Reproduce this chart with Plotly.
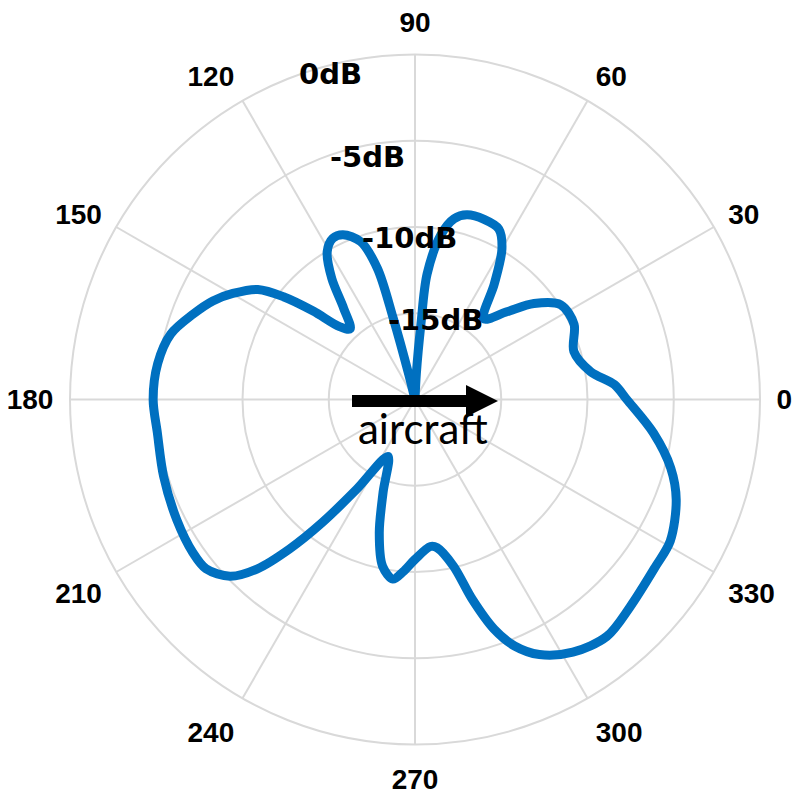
import plotly.graph_objects as go

# ---------------- data ----------------
theta_deg = [0, 4.3, 9, 16.8, 25.3, 33, 38.9, 43.7, 49.6, 55.5, 60, 63.8, 69, 74.3,
             77.8, 81, 84.5, 85.5, 87, 90, 100, 104, 105, 106, 109, 113.6, 117,
             120.7, 124.5, 128, 132.5, 136, 139, 142, 145, 149.8, 154, 159, 165,
             172, 180, 187.3, 197, 206.8, 214.6, 219, 223.7, 227, 230, 233, 237,
             244.6, 251, 255, 259, 263, 266, 270, 276, 278.5, 283, 286, 289, 292,
             296, 302, 309, 316, 325, 331, 339, 345, 352, 360]
gain_db = [-7.72, -8.41, -9.69, -10.38, -9.80, -9.92, -11.14, -12.64, -13.86, -11.89,
           -9.92, -8.99, -8.82, -8.88, -9.28, -10.32, -12.70, -15.6, -18.5, -20.0,
           -20.0, -18.5, -15.1, -12.1, -10.32, -9.57, -9.51, -10.03, -11.48, -13.28,
           -14.44, -13.92, -12.18, -10.32, -8.88, -7.78, -6.96, -6.21, -5.34, -4.94,
           -4.82, -4.94, -4.76, -4.53, -4.36, -4.41, -5.17, -6.56, -8.70, -11.08,
           -13.80, -16.35, -14.32, -12.00, -10.15, -9.51, -9.98, -10.73, -11.43,
           -11.31, -10.09, -7.95, -5.92, -4.59, -3.55, -2.73, -2.33, -2.68, -3.02,
           -3.08, -3.78, -4.65, -6.04, -7.72]

angle_ticks = [0, 30, 60, 90, 120, 150, 180, 210, 240, 270, 300, 330]
angle_labels = ["0", "30", "60", "90", "120", "150", "180", "210", "240", "270", "300", "330"]
db_ticks = [-15, -10, -5, 0]
db_labels = ["-15dB", "-10dB", "-5dB", "0dB"]
aircraft_label = "aircraft"

# ---------------- layout helpers ----------------
# the page body has an 8px margin; the figure is sized so it fills the rest of the window
SCREEN_W, SCREEN_H = 804, 794
OFF = 8
W, H = SCREEN_W - OFF, SCREEN_H - OFF


def px(x):
    """screen pixel x -> paper fraction"""
    return (x - OFF) / W


def py(y):
    """screen pixel y -> paper fraction"""
    return 1 - (y - OFF) / H


GRID = "#d9d9d9"
LINE_BLUE = "#0070C0"

fig = go.Figure()
fig.add_trace(go.Scatterpolar(
    r=gain_db, theta=theta_deg, mode="lines",
    line=dict(color=LINE_BLUE, width=9, shape="spline", smoothing=0.9),
    hoverinfo="skip", showlegend=False,
))

# label positions (screen pixels) for the radial dB labels
db_label_pos = {"0dB": (330.5, 74), "-5dB": (367.5, 157), "-10dB": (409.5, 237.5), "-15dB": (435.5, 320)}

annotations = []
for lab in db_labels:
    x, y = db_label_pos[lab]
    annotations.append(dict(
        text=lab, x=px(x), y=py(y), xref="paper", yref="paper", showarrow=False,
        xanchor="center", yanchor="middle",
        font=dict(family="DejaVu Sans", size=29, color="black", weight="bold"),
    ))
annotations.append(dict(
    text=aircraft_label, x=px(422.5), y=py(428), xref="paper", yref="paper", showarrow=False,
    xanchor="center", yanchor="middle",
    font=dict(family="Lato, Open Sans, sans-serif", size=42, color="black"),
))

shapes = [
    dict(type="rect", xref="paper", yref="paper",
         x0=px(352), x1=px(470), y0=py(407), y1=py(395),
         fillcolor="black", line=dict(width=0), layer="above"),
    dict(type="path", xref="paper", yref="paper",
         path=f"M {px(466)},{py(385)} L {px(498)},{py(401)} L {px(466)},{py(417)} Z",
         fillcolor="black", line=dict(width=0), layer="above"),
]

cx, cy, R = 415, 399.5, 345
fig.update_layout(
    width=W, height=H,
    margin=dict(l=0, r=0, t=0, b=0),
    paper_bgcolor="white",
    showlegend=False,
    polar=dict(
        domain=dict(x=[px(cx - R), px(cx + R)], y=[py(cy + R), py(cy - R)]),
        bgcolor="white",
        radialaxis=dict(
            range=[-20, 0], tickmode="array", tickvals=db_ticks,
            showticklabels=False, ticks="", showline=False,
            gridcolor=GRID, gridwidth=1.5,
        ),
        angularaxis=dict(
            rotation=0, direction="counterclockwise",
            tickmode="array", tickvals=angle_ticks, ticktext=angle_labels,
            ticks="outside", ticklen=10, tickcolor="rgba(0,0,0,0)",
            tickfont=dict(family="Liberation Sans, Arial, sans-serif", size=28, color="black", weight="bold"),
            showline=True, linecolor=GRID, linewidth=2,
            gridcolor=GRID, gridwidth=1.5,
        ),
    ),
    annotations=annotations,
    shapes=shapes,
)

fig.write_html("out.html")
